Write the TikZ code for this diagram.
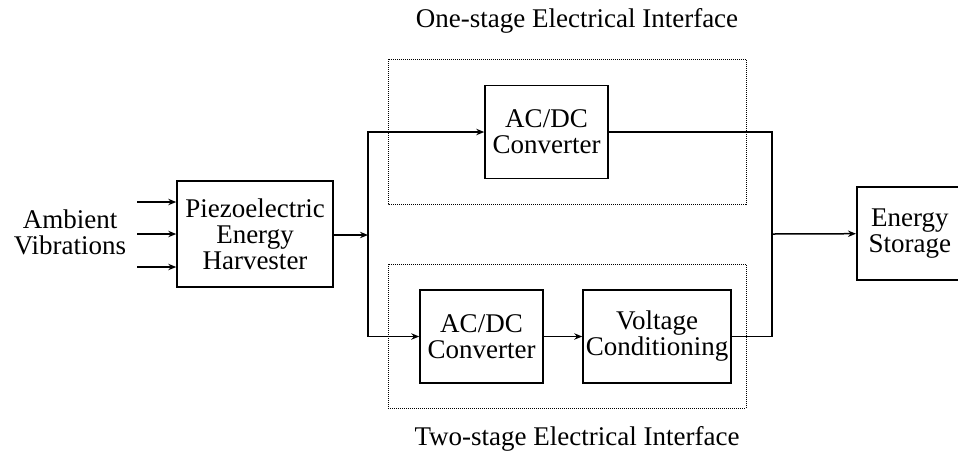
\documentclass[tikz,border=0pt]{standalone}
\usepackage{fontspec}
\setmainfont{Liberation Serif}
\usetikzlibrary{positioning,arrows.meta}

\begin{document}
\begin{tikzpicture}[
  x=0.5pt, y=-0.5pt, font=\fontsize{13.5}{13}\selectfont, >={Stealth[length=4pt,width=3.2pt]},
  block/.style={draw, line width=0.75pt, align=center, inner sep=1pt,
                minimum height=46.5pt},
  frame/.style={draw, dash pattern=on 0.5pt off 0.5pt, line width=0.5pt},
  wire/.style={line width=0.75pt}]

\useasboundingbox (0,0) rectangle (958,457);

\node (peh) [block, minimum width=78pt, minimum height=53pt] at (255,234)
  {Piezoelectric\\Energy\\Harvester};
\node (amb) [align=center] at (70,232) {Ambient\\Vibrations};

\node (acdc1) [block, minimum width=61.5pt] at (546.5,132) {AC/DC\\Converter};
\node (acdc2) [block, minimum width=61.5pt] at (481.5,336.5) {AC/DC\\Converter};
\node (vc) [block, minimum width=74pt] at (657,336.5) {Voltage\\Conditioning};
\node (es) [block, minimum width=53pt, anchor=west] at (856,233.5) {Energy\\Storage};

\draw[frame] (388,59) rectangle (746,204);
\draw[frame] (388,264) rectangle (746,408);
\node (one) [anchor=base] at (577,27) {One-stage Electrical Interface};
\node (two) [anchor=base] at (577,445) {Two-stage Electrical Interface};

% inputs
\foreach \y [count=\i] in {202,234,267} {
  \coordinate (in\i) at (137,\y);
  \draw[wire,->] (in\i) -- (in\i -| peh.west);
}

\coordinate (split) at (368,235);
\coordinate (join) at (772,234);
\draw[wire,->] (peh.east |- split) -- (split);
\draw[wire,->] (split) |- (acdc1);
\draw[wire,->] (split) |- (acdc2);
\draw[wire,->] (acdc2) -- (vc);
\draw[wire] (acdc1) -| (join);
\draw[wire] (vc) -| (join);
\draw[wire,->] (join) -- (es);
\end{tikzpicture}
\end{document}
